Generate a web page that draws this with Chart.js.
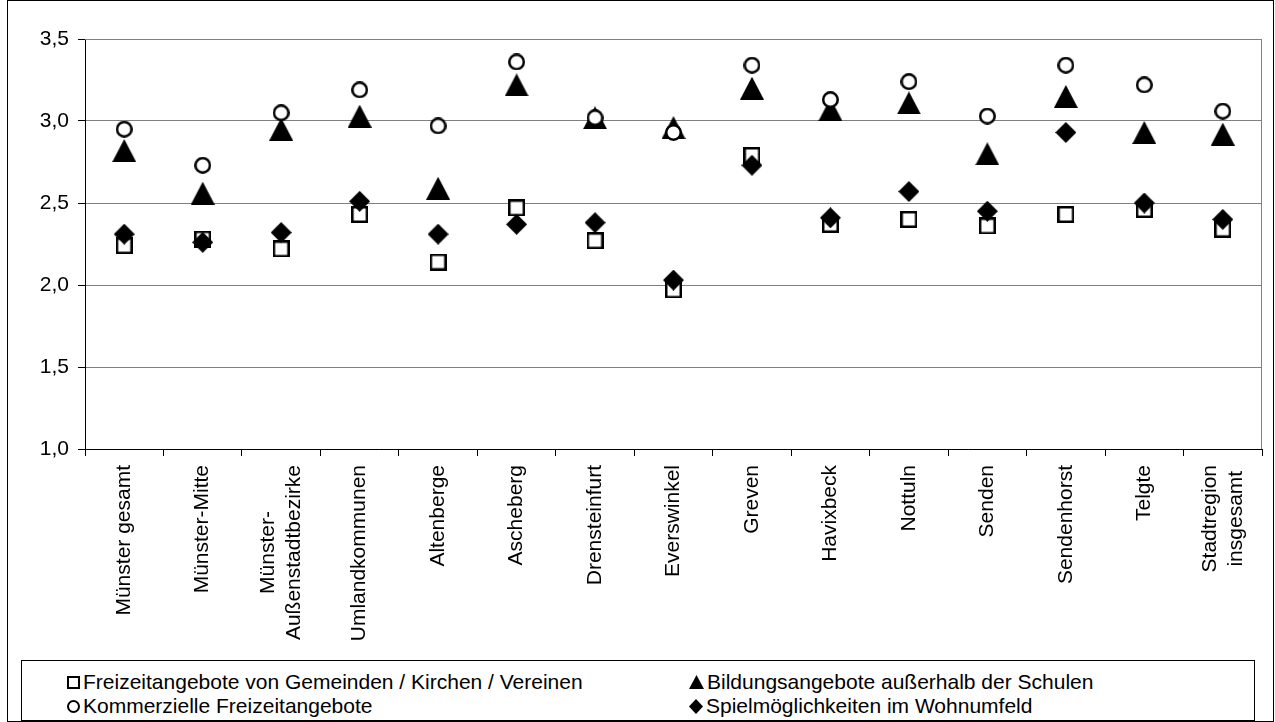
<!DOCTYPE html>
<html>
<head>
<meta charset="utf-8">
<script src="https://cdn.jsdelivr.net/npm/chart.js@4.4.1/dist/chart.umd.min.js"></script>
<style>
body{margin:0;background:#fff;font-family:"Liberation Sans",Arial,sans-serif;}
#wrap{position:relative;width:1275px;height:722px;overflow:hidden;}
#frame{position:absolute;left:7px;top:0;width:1265px;height:720px;border:1px solid #000;}
#c{position:absolute;left:0;top:0;}
#legend{position:absolute;left:21px;top:660px;width:1232px;height:59px;border:1px solid #000;background:#fff;font-size:21px;color:#000;}
.item{position:absolute;display:flex;align-items:center;white-space:nowrap;height:24px;}
.item canvas{margin-right:3px;}
</style>
</head>
<body>
<div id="wrap">
  <div id="frame"></div>
  <canvas id="c" width="1275" height="722"></canvas>
  <div id="legend"></div>
</div>
<script>
// categories (x axis)
const categories = [
  'Münster gesamt', 'Münster-Mitte', ['Münster-', 'Außenstadtbezirke'], 'Umlandkommunen',
  'Altenberge', 'Ascheberg', 'Drensteinfurt', 'Everswinkel', 'Greven', 'Havixbeck',
  'Nottuln', 'Senden', 'Sendenhorst', 'Telgte', ['Stadtregion', 'insgesamt']
];

// series values
const freizeitGemeinden = [2.24, 2.28, 2.22, 2.43, 2.14, 2.47, 2.27, 1.97, 2.79, 2.37, 2.40, 2.36, 2.43, 2.46, 2.34];
const bildungsangebote  = [2.82, 2.56, 2.95, 3.03, 2.59, 3.22, 3.02, 2.96, 3.20, 3.07, 3.11, 2.80, 3.15, 2.93, 2.92];
const kommerzielle      = [2.95, 2.73, 3.05, 3.19, 2.97, 3.36, 3.02, 2.93, 3.34, 3.13, 3.24, 3.03, 3.34, 3.22, 3.06];
const spielmoeglich     = [2.31, 2.26, 2.32, 2.51, 2.31, 2.37, 2.38, 2.03, 2.73, 2.41, 2.57, 2.45, 2.93, 2.50, 2.40];

const seriesNames = [
  'Freizeitangebote von Gemeinden / Kirchen / Vereinen',
  'Bildungsangebote außerhalb der Schulen',
  'Kommerzielle Freizeitangebote',
  'Spielmöglichkeiten im Wohnumfeld'
];

// y axis ticks
const yMin = 1.0, yMax = 3.5, yStep = 0.5;

const FONT = '"Liberation Sans", Arial, sans-serif';

function marker(kind, w, h, lw) {
  const c = document.createElement('canvas');
  c.width = w; c.height = h;
  const ctx = c.getContext('2d');
  ctx.fillStyle = '#000';
  ctx.strokeStyle = '#000';
  ctx.lineWidth = lw;
  if (kind === 'square') {
    ctx.fillStyle = '#fff';
    ctx.fillRect(lw / 2, lw / 2, w - lw, h - lw);
    ctx.strokeRect(lw / 2, lw / 2, w - lw, h - lw);
  } else if (kind === 'circle') {
    ctx.beginPath();
    ctx.arc(w / 2, h / 2, w / 2 - lw / 2, 0, Math.PI * 2);
    ctx.fillStyle = '#fff';
    ctx.fill();
    ctx.stroke();
  } else if (kind === 'triangle') {
    ctx.beginPath();
    ctx.moveTo(w / 2, 0); ctx.lineTo(w, h); ctx.lineTo(0, h);
    ctx.closePath();
    ctx.fill();
  } else {
    ctx.beginPath();
    ctx.moveTo(w / 2, 0); ctx.lineTo(w, h / 2); ctx.lineTo(w / 2, h); ctx.lineTo(0, h / 2);
    ctx.closePath();
    ctx.fill();
  }
  return c;
}

const styles = [
  marker('square', 17, 17, 2.5),
  marker('triangle', 24, 23, 0),
  marker('circle', 17, 17, 2.5),
  marker('diamond', 21, 21, 0)
];
const values = [freizeitGemeinden, bildungsangebote, kommerzielle, spielmoeglich];
const drawOrder = [3, 2, 1, 0];

// gray frame on top and right of the plot area
const plotFrame = {
  id: 'plotFrame',
  beforeDatasetsDraw(chart) {
    const a = chart.chartArea, ctx = chart.ctx;
    ctx.save();
    ctx.strokeStyle = '#808080';
    ctx.lineWidth = 1;
    ctx.beginPath();
    ctx.moveTo(a.left, a.top + 0.5);
    ctx.lineTo(a.right - 0.5, a.top + 0.5);
    ctx.lineTo(a.right - 0.5, a.bottom);
    ctx.stroke();
    ctx.restore();
  }
};

// vertical category labels, lines centred on each other like the original
const verticalLabels = {
  id: 'verticalLabels',
  afterDraw(chart) {
    const sx = chart.scales.x, ctx = chart.ctx;
    const lh = 26;
    ctx.save();
    ctx.font = '21px ' + FONT;
    ctx.fillStyle = '#000';
    ctx.textAlign = 'center';
    ctx.textBaseline = 'middle';
    chart.data.labels.forEach((lab, i) => {
      const lines = [].concat(lab);
      const maxW = Math.max(...lines.map(l => ctx.measureText(l).width));
      ctx.save();
      ctx.translate(sx.getPixelForTick(i), sx.top + 16);
      ctx.rotate(-Math.PI / 2);
      lines.forEach((l, j) => ctx.fillText(l, -maxW / 2, (j - (lines.length - 1) / 2) * lh));
      ctx.restore();
    });
    ctx.restore();
  }
};

new Chart(document.getElementById('c'), {
  type: 'line',
  data: {
    labels: categories,
    datasets: values.map((v, i) => ({
      label: seriesNames[i],
      data: v,
      showLine: false,
      pointStyle: styles[i],
      pointRadius: 10,
      pointHoverRadius: 10,
      order: drawOrder[i]
    }))
  },
  options: {
    responsive: false,
    animation: false,
    devicePixelRatio: 1,
    layout: { padding: { top: 39, right: 13, left: 0, bottom: 0 } },
    plugins: { legend: { display: false }, tooltip: { enabled: false } },
    scales: {
      x: {
        offset: true,
        grid: { offset: true, drawOnChartArea: false, tickLength: 7, color: '#000' },
        border: { color: '#000', width: 1 },
        ticks: { display: false, autoSkip: false },
        afterFit(s) { s.height = 273; }
      },
      y: {
        min: yMin, max: yMax,
        grid: { color: '#808080', tickColor: '#000', tickLength: 7 },
        border: { color: '#000', width: 1 },
        ticks: {
          stepSize: yStep, padding: 9, color: '#000',
          font: { size: 21, family: FONT },
          callback: v => v.toFixed(1).replace('.', ',')
        },
        afterFit(s) { s.width = 85; }
      }
    }
  },
  plugins: [plotFrame, verticalLabels]
});

// legend (two columns, row-major)
const legend = document.getElementById('legend');
const legendMarkers = [
  marker('square', 13, 13, 2),
  marker('triangle', 15, 14, 0),
  marker('circle', 13, 13, 2),
  marker('diamond', 14, 15, 0)
];
const legendPos = [[45, 9], [667, 9], [45, 33], [667, 33]];
seriesNames.forEach((name, i) => {
  const d = document.createElement('div');
  d.className = 'item';
  d.style.left = legendPos[i][0] + 'px';
  d.style.top = legendPos[i][1] + 'px';
  d.appendChild(legendMarkers[i]);
  const s = document.createElement('span');
  s.textContent = name;
  d.appendChild(s);
  legend.appendChild(d);
});
</script>
</body>
</html>
